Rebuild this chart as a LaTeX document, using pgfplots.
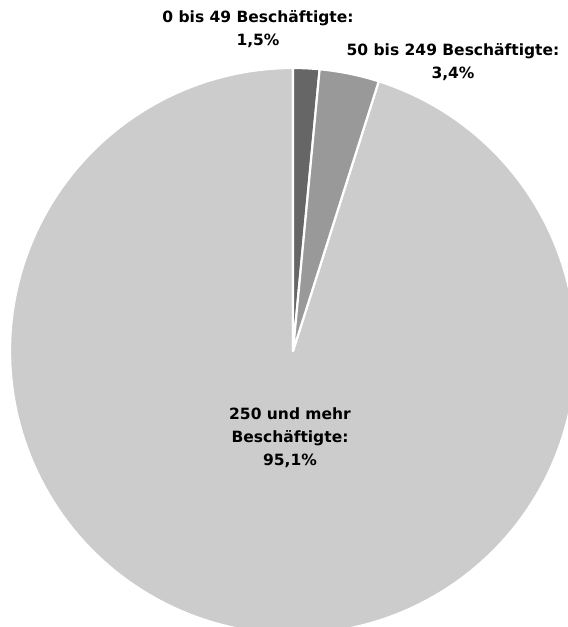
\documentclass[border=0pt]{standalone}
\usepackage{pgfplots}
\pgfplotsset{compat=1.18}
\usepackage{fontspec}
\setmainfont{DejaVu Sans}
\definecolor{sliceA}{HTML}{666666}
\definecolor{sliceB}{HTML}{999999}
\definecolor{sliceC}{HTML}{CCCCCC}
% shares in percent
\def\va{1.5}
\def\vb{3.4}
\def\vc{95.1}
\begin{document}
\begin{tikzpicture}
\useasboundingbox (0,0) rectangle (568bp,627bp);
\pgfmathsetmacro{\aA}{0}
\pgfmathsetmacro{\aB}{\va*3.6}
\pgfmathsetmacro{\aC}{(\va+\vb)*3.6}
\pgfmathsetmacro{\aD}{360}
\begin{axis}[
  at={(0,0)}, anchor=origin,
  width=568bp, height=627bp, scale only axis,
  xmin=0, xmax=568, ymin=0, ymax=627,
  hide axis, clip=true,
]
\addplot[fill=sliceC, draw=white, line width=2.2bp, line join=round, domain=\aC:\aD, samples=200, variable=\t]
  ({293+283*sin(t)},{276+283*cos(t)}) -- (axis cs:293,276) -- cycle;
\addplot[fill=sliceA, draw=white, line width=2.2bp, line join=round, domain=\aA:\aB, samples=10, variable=\t]
  ({293+283*sin(t)},{276+283*cos(t)}) -- (axis cs:293,276) -- cycle;
\addplot[fill=sliceB, draw=white, line width=2.2bp, line join=round, domain=\aB:\aC, samples=20, variable=\t]
  ({293+283*sin(t)},{276+283*cos(t)}) -- (axis cs:293,276) -- cycle;
\end{axis}
\begin{scope}[every node/.style={font=\fontsize{15.5bp}{23bp}\selectfont\bfseries, align=center, text=black}]
\node at (258bp,627bp-29bp) {0 bis 49 Beschäftigte:\\1,5\%};
\node at (453bp,627bp-62bp) {50 bis 249 Beschäftigte:\\3,4\%};
\node at (290bp,627bp-438bp) {250 und mehr\\Beschäftigte:\\95,1\%};
\end{scope}
\end{tikzpicture}
\end{document}
